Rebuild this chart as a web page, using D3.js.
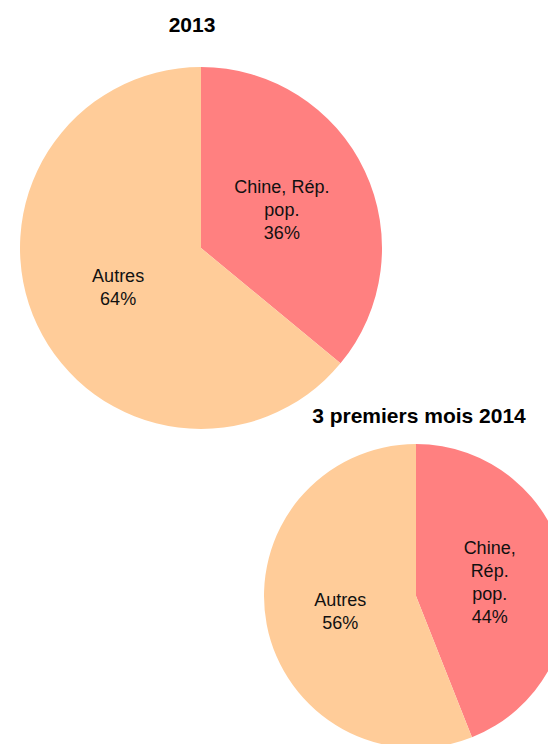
<!DOCTYPE html>
<html lang="fr">
<head>
    <meta charset="UTF-8">
    <title>Chine, Rép. pop. - parts</title>
    <script src="https://d3js.org/d3.v7.min.js"></script>
    <style>
        body { margin: 0; background: #fff; }
        svg { display: block; }
        .title { font-family: Arial, "Liberation Sans", sans-serif; font-size: 21px; font-weight: bold; fill: #000; }
        .label { font-family: Arial, "Liberation Sans", sans-serif; font-size: 18px; fill: #111; }
    </style>
</head>
<body>
<svg width="548" height="744"></svg>
<script>
    // data
    const categories = ["Chine, Rép. pop.", "Autres"];
    const values2013 = [36, 64];
    const values2014 = [44, 56];
    const titles = ["2013", "3 premiers mois 2014"];
    // how each label is broken onto lines in the picture
    const labelLines2013 = [["Chine, Rép.", "pop."], ["Autres"]];
    const labelLines2014 = [["Chine,", "Rép.", "pop."], ["Autres"]];
    const colors = ["#FF8080", "#FFCC99"];

    const svg = d3.select("svg");
    const color = d3.scaleOrdinal().domain(categories).range(colors);
    const pie = d3.pie().sort(null).value(d => d.value);

    function drawPie(values, lines, title, cx, cy, r, tx, ty) {
        const data = categories.map((c, i) => ({ name: c, value: values[i], lines: lines[i] }));
        const g = svg.append("g").attr("transform", `translate(${cx},${cy})`);
        const arc = d3.arc().innerRadius(0).outerRadius(r);
        const labelArc = d3.arc().innerRadius(r * 0.5).outerRadius(r * 0.5);

        g.selectAll("path")
            .data(pie(data))
            .enter().append("path")
            .attr("d", arc)
            .attr("fill", d => color(d.data.name));

        const lh = 23;
        g.selectAll("text.label")
            .data(pie(data))
            .enter().append("text")
            .attr("class", "label")
            .attr("text-anchor", "middle")
            .each(function (d) {
                const [x, y] = labelArc.centroid(d);
                const all = d.data.lines.concat([d.data.value + "%"]);
                const y0 = y - (all.length - 1) * lh / 2 + 7;
                const t = d3.select(this);
                all.forEach((s, i) => {
                    t.append("tspan").attr("x", x - 1).attr("y", y0 + i * lh).text(s);
                });
            });

        svg.append("text")
            .attr("class", "title")
            .attr("x", tx)
            .attr("y", ty)
            .attr("text-anchor", "middle")
            .text(title);
    }

    drawPie(values2013, labelLines2013, titles[0], 201, 248, 181, 192, 32);
    drawPie(values2014, labelLines2014, titles[1], 416, 596, 152, 419, 423);
</script>
</body>
</html>
